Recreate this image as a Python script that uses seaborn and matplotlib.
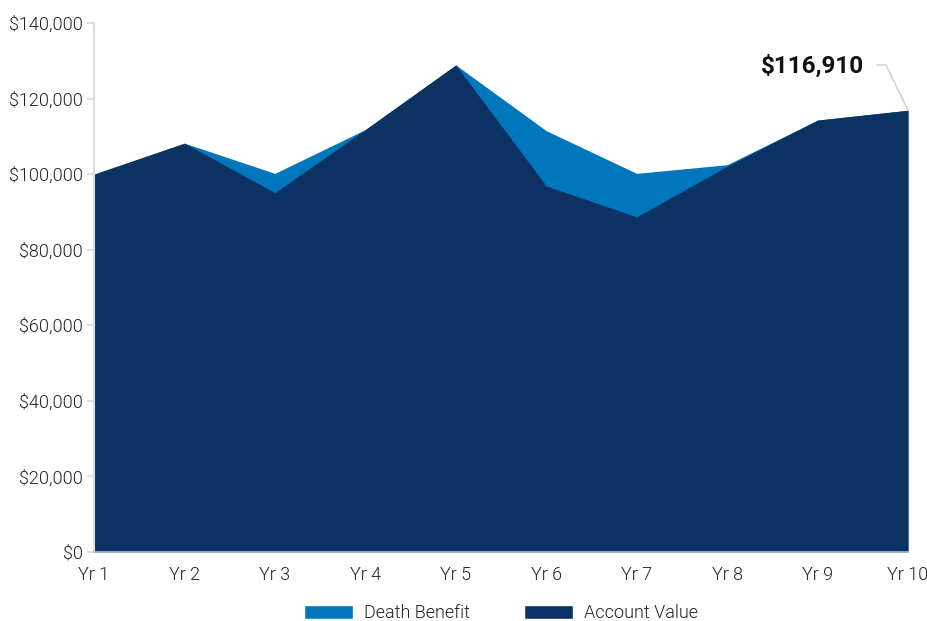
import matplotlib
matplotlib.use("Agg")
import matplotlib.pyplot as plt
import seaborn as sns
import pandas as pd
from matplotlib.patches import Patch
from matplotlib.ticker import FuncFormatter

years = ["Yr 1", "Yr 2", "Yr 3", "Yr 4", "Yr 5", "Yr 6", "Yr 7", "Yr 8", "Yr 9", "Yr 10"]
death_benefit = [100000, 108200, 100200, 111800, 128900, 111500, 100200, 102500, 114300, 116910]
account_value = [100000, 108200, 95100, 111800, 128900, 96900, 88700, 102100, 114300, 116910]
y_ticks = [0, 20000, 40000, 60000, 80000, 100000, 120000, 140000]
final_label = "$116,910"

DB_COLOR = "#0077bd"
AV_COLOR = "#0b3263"
TEXT_COLOR = "#222222"
LIGHT = 300

sns.set_theme(style="white")
plt.rcParams["font.family"] = ["Roboto", "DejaVu Sans"]

df = pd.DataFrame({"year": years, "idx": range(len(years)),
                   "Death Benefit": death_benefit, "Account Value": account_value})

W, H = 927, 621
fig = plt.figure(figsize=(W / 100, H / 100), dpi=100)
ax = fig.add_axes([94 / W, 1 - 552 / H, (908 - 94) / W, (552 - 23) / H])

sns.lineplot(data=df, x="idx", y="Death Benefit", ax=ax, color=DB_COLOR, linewidth=0)
sns.lineplot(data=df, x="idx", y="Account Value", ax=ax, color=AV_COLOR, linewidth=0)
ax.fill_between(df["idx"], 0, df["Death Benefit"], color=DB_COLOR, linewidth=0)
ax.fill_between(df["idx"], 0, df["Account Value"], color=AV_COLOR, linewidth=0)

ax.set_xlim(0, len(years) - 1)
ax.set_ylim(0, 140000)
ax.set_xticks(df["idx"])
ax.set_xticklabels(years)
ax.set_yticks(y_ticks)
ax.yaxis.set_major_formatter(FuncFormatter(lambda v, p: f"${v:,.0f}"))
ax.set_xlabel("")
ax.set_ylabel("")

for s in ["top", "right"]:
    ax.spines[s].set_visible(False)
ax.spines["left"].set_color("#dddddd")
ax.spines["left"].set_linewidth(1.5)
ax.spines["bottom"].set_color("#a9bdd3")
ax.spines["bottom"].set_linewidth(1.2)

ax.tick_params(axis="y", which="major", left=True, length=5, width=1.5,
               color="#dddddd", pad=3, labelsize=13, labelcolor=TEXT_COLOR)
ax.tick_params(axis="x", which="major", bottom=False, length=0, pad=10,
               labelsize=13, labelcolor=TEXT_COLOR)
for lab in ax.get_xticklabels() + ax.get_yticklabels():
    lab.set_fontweight(LIGHT)

# callout for the final account value with a leader line
last = len(years) - 1
ax.annotate(final_label, xy=(last, account_value[-1]),
            xytext=(864, H - 66), textcoords="figure pixels",
            ha="right", va="center", fontsize=17.5, fontweight="bold", color="#111111")
p_end = ax.transData.transform((last, account_value[-1]))
xs = [877, 886, p_end[0]]
ys = [H - 65, H - 65, p_end[1]]
fig.add_artist(plt.Line2D(xs, ys, transform=None, color="#cccccc", linewidth=1))

handles = [Patch(facecolor=DB_COLOR, label="Death Benefit"),
           Patch(facecolor=AV_COLOR, label="Account Value")]
leg = fig.legend(handles=handles, loc="center", bbox_to_anchor=(501 / W, 1 - 613 / H),
                 ncol=2, frameon=False, fontsize=13, handlelength=2.7, handleheight=0.8,
                 columnspacing=3.0, handletextpad=0.6, borderaxespad=0, borderpad=0.2)
for t in leg.get_texts():
    t.set_color(TEXT_COLOR)
    t.set_fontweight(LIGHT)

fig.savefig("out.png", dpi=100)
